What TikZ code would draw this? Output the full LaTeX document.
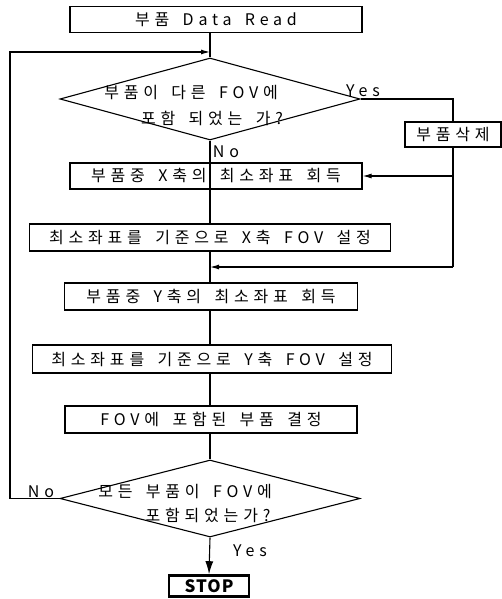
\documentclass[tikz,border=0pt]{standalone}
\usepackage{fontspec}
\setmainfont{Noto Sans CJK KR}[LetterSpace=30, WordSpace=1.6]
\newfontfamily\stopfont{Noto Sans CJK KR}[LetterSpace=6]
\usetikzlibrary{arrows.meta,positioning,shapes.geometric}

\begin{document}
\begin{tikzpicture}[
    x=1pt,
    y=-1pt,
    every node/.style={font=\fontsize{16}{22}\selectfont},
    procbox/.style={draw=black, line width=1.1pt, minimum height=26pt, inner sep=0pt},
    decision/.style={diamond, draw=black, line width=1.1pt, minimum width=300pt,
      minimum height=80pt, inner sep=0pt},
    stopbox/.style={draw=black, line width=2.6pt, minimum width=80pt, minimum height=21pt,
      inner sep=0pt, font=\stopfont\fontsize{17}{18}\selectfont\bfseries},
    flow/.style={draw=black, line width=1.1pt},
    arrowflow/.style={flow, -{Latex[length=9pt,width=5pt]}},
    stoparrow/.style={flow, -{Latex[length=13pt,width=8pt]}},
    tag/.style={inner sep=0pt}
  ]
    \useasboundingbox (0,0) rectangle (501,599);

    % Main column of steps.
    \node[procbox, minimum width=292pt] (read) at (216,19.5) {부품 Data Read};
    \node[decision, minimum height=82pt] (dec1) at (210,99) {};
    \node[tag] (dec1top) at (191,93) {부품이 다른 FOV에};
    \node[tag] (dec1bot) at (212,118) {포함 되었는 가?};
    \node[procbox, minimum width=292pt] (getx) at (216,176) {부품중 X축의 최소좌표 회득};
    \node[procbox, minimum width=361pt, minimum height=27pt] (setx) at (210,237.5)
      {최소좌표를 기준으로 X축 FOV 설정};
    \node[procbox, minimum width=293pt, minimum height=27pt] (gety) at (211,296.5)
      {부품중 Y축의 최소좌표 회득};
    \node[procbox, minimum width=359pt, minimum height=28pt] (sety) at (212,359)
      {최소좌표를 기준으로 Y축 FOV 설정};
    \node[procbox, minimum width=292pt, minimum height=27pt] (pick) at (211,419.5)
      {FOV에 포함된 부품 결정};
    \node[decision, minimum height=77pt] (dec2) at (210,498.5) {};
    \node[tag] (dec2top) at (185,492) {모든 부품이 FOV에};
    \node[tag] (dec2bot) at (208,515) {포함되었는가?};
    \node[stopbox] (stop) at (209,586) {STOP};

    % Side step for the Yes branch.
    \node[procbox, minimum width=96pt, minimum height=25pt] (del) at (453,134.5) {부품삭제};

    % Junction points.
    \coordinate (spine) at (210,0);
    \coordinate (loopin) at (210,52);
    \coordinate (merge) at (210,267);
    \coordinate (leftrail) at (10,0);

    % Straight flow.
    \draw[flow] (read.south -| spine) -- (dec1.north);
    \draw[flow] (dec1.south) -- (getx.south -| spine);
    \draw[flow] (getx.south -| spine) -- (setx.north -| spine);
    \draw[flow] (setx.south -| spine) -- (gety.north -| spine);
    \draw[flow] (gety.south -| spine) -- (sety.north -| spine);
    \draw[flow] (sety.south -| spine) -- (pick.north -| spine);
    \draw[flow] (pick.south -| spine) -- (dec2.north);
    \draw[stoparrow] (dec2.south) -- (stop.north);

    % Yes branch through the delete step.
    \draw[flow] (dec1.east) -- (dec1.east -| del) -- (del.north);
    \draw[flow] (del.south) -- (merge -| del);
    \draw[arrowflow] (getx.east -| del) -- (getx.east);
    \draw[arrowflow] (merge -| del) -- (merge);

    % No branch back to the top.
    \draw[arrowflow] (dec2.west) -- (dec2.west -| leftrail) -- (loopin -| leftrail) -- (loopin);

    % Branch labels.
    \node[tag] (yes1) at (363,91) {Yes};
    \node[tag] (no1) at (226,152) {No};
    \node[tag] (no2) at (41,492) {No};
    \node[tag] (yes2) at (250,551) {Yes};
  \end{tikzpicture}
\end{document}
